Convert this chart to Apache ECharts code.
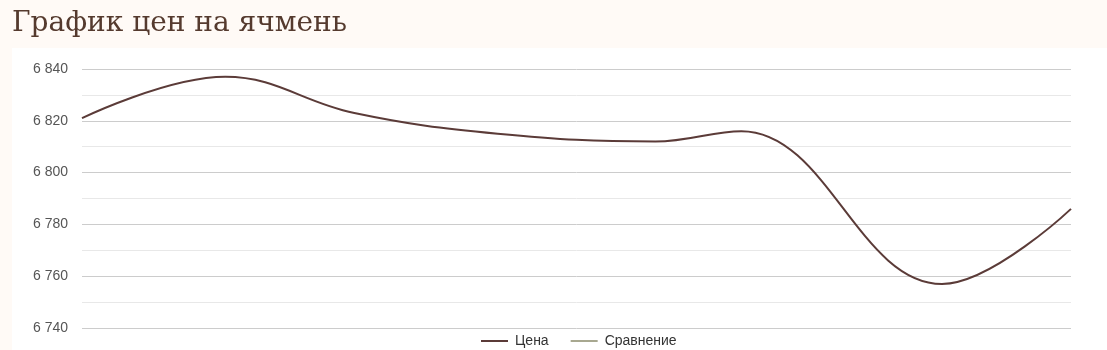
<!DOCTYPE html>
<html><head><meta charset="utf-8">
<script src="https://cdn.jsdelivr.net/npm/echarts@6/dist/echarts.min.js"></script>
<style>html,body{margin:0;padding:0;background:#fffaf6}#c{width:1107px;height:350px}</style>
</head><body><div id="c"></div>
<script>
const titleText = 'График цен на ячмень';
const dates = ['2024-01-01','2024-01-11','2024-01-20','2024-01-30','2024-02-10','2024-02-16','2024-03-01','2024-03-10'];
const priceValues = [6821, 6837, 6823, 6815, 6812, 6816, 6757, 6786];
const compareValues = [];
const seriesNames = ['Цена', 'Сравнение'];
const yTicks = {min: 6740, max: 6840, step: 20};

const chart = echarts.init(document.getElementById('c'), null, {renderer: 'canvas'});
const fmt = v => String(v).replace(/\B(?=(\d{3})+(?!\d))/g, ' ');
chart.setOption({
  backgroundColor: '#fffaf6',
  animation: false,
  graphic: [{type: 'rect', z: -10, shape: {x: 12, y: 48, width: 1095, height: 302}, style: {fill: '#ffffff'}}],
  title: {text: titleText, left: 7, top: 5, textStyle: {fontFamily: 'DejaVu Serif', fontWeight: 'normal', fontSize: 28, color: '#553a2e'}},
  legend: {top: 329, left: 476, itemWidth: 27, itemHeight: 2, icon: 'rect', itemGap: 22,
    textStyle: {color: '#333', fontSize: 14, fontFamily: 'Liberation Sans', padding: [0, 0, 0, 2]},
    data: seriesNames},
  grid: {left: 82, right: 36, top: 69, bottom: 22},
  xAxis: {type: 'time', min: dates[0], max: dates[dates.length - 1], show: false},
  yAxis: {type: 'value', min: yTicks.min, max: yTicks.max, interval: yTicks.step,
    axisLine: {show: false}, axisTick: {show: false},
    axisLabel: {formatter: fmt, color: '#555', fontSize: 14, fontFamily: 'Liberation Sans', margin: 14},
    splitLine: {lineStyle: {color: '#cccccc', width: 1}},
    minorTick: {show: false, splitNumber: 2},
    minorSplitLine: {show: true, lineStyle: {color: '#e8e8e8', width: 1}}},
  series: [
    {name: seriesNames[0], type: 'line', smooth: 0.4, symbol: 'none', color: '#5b3b38',
      lineStyle: {width: 2, color: '#5b3b38'},
      data: dates.map((d, i) => [d, priceValues[i]])},
    {name: seriesNames[1], type: 'line', smooth: true, symbol: 'none', color: '#a8a890',
      lineStyle: {width: 2, color: '#a8a890'}, data: compareValues}
  ]
});
</script></body></html>
